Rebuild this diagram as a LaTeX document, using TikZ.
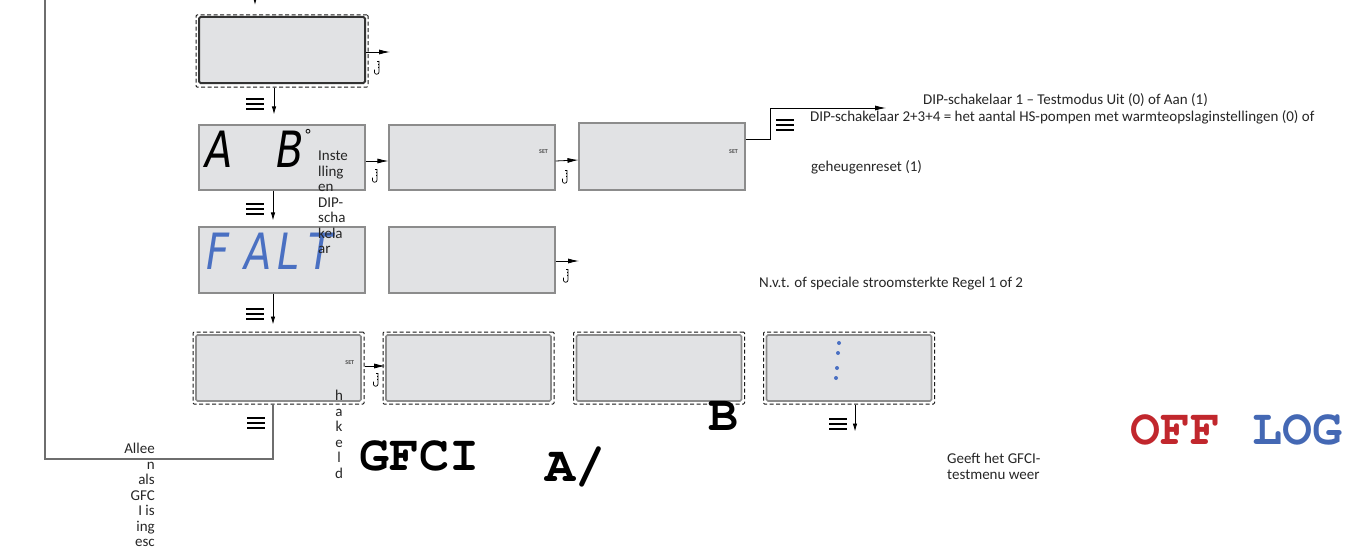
\documentclass[tikz,border=0pt]{standalone}
\usepackage[T1]{fontenc}
\usepackage{fontspec}
\setmainfont{Carlito}
\newfontfamily\lcdfont{DejaVu Sans}
\usetikzlibrary{arrows.meta, calc, positioning}

\definecolor{lcdgray}{HTML}{E1E2E4}
\definecolor{rimgray}{HTML}{8C8C8C}
\definecolor{wiregray}{HTML}{6E6E6E}
\definecolor{segblue}{HTML}{4A70C2}
\definecolor{offred}{HTML}{C1272D}
\definecolor{logblue}{HTML}{4468B4}

\newcommand{\crfont}{\fontencoding{T1}\fontfamily{pcr}\fontseries{b}\selectfont}

\begin{document}
\begin{tikzpicture}[x=1pt, y=-1pt,
  lcd/.style = {draw=rimgray, fill=lcdgray, line width=1.1pt, minimum width=166pt, minimum height=66pt, inner sep=0pt},
  lcdb/.style = {lcd, rounded corners=1.5pt, line width=1.6pt},
  frame/.style = {draw=black!90, dash pattern=on 4pt off 2.5pt, line width=1pt, minimum width=172pt, minimum height=72pt, inner sep=0pt, rounded corners=1pt},
  nxt/.style = {-{Latex[length=11pt,width=5pt]}, line width=.8pt},
  dwn/.style = {-{Latex[length=8pt,width=4.5pt]}, line width=.8pt},
  wire/.style = {draw=wiregray, line width=1.2pt},
  note/.style = {font=\fontsize{15}{15.5}\selectfont, text=black!85, inner sep=0pt},
  big/.style = {font=\crfont\fontsize{50}{50}\selectfont, inner sep=0pt, anchor=base west},
  seg/.style = {font=\lcdfont\fontsize{50}{50}\selectfont, inner sep=0pt},
  setlbl/.style = {font=\bfseries\fontsize{6}{6}\selectfont, text=black!70, inner sep=0pt},
  menu/.pic = {\draw[line width=2.2pt] (-9,-5) -- (9,-5) (-9,0) -- (9,0) (-9,5) -- (9,5);},
  thermo/.pic = {\draw[line width=.7pt] (0,0) -- (0,11) arc (0:180:2.3) -- ++(0,-2.5);
    \draw[line width=.5pt] (0,0) -- (-1.8,0) (0,3) -- (-1.5,3) (0,6) -- (-1.5,6);}
]
\useasboundingbox (0,0) rectangle (1367,551);

% displays
\node[frame] (topf) at (282,51) {};
\node[lcdb, draw=black!80, line width=2pt] (top) at (282,50) {};
\node[lcd, minimum height=65pt] (ab) at (282,157.5) {};
\node[lcd, minimum height=65pt] (ab2) at (472,157.5) {};
\node[lcd, minimum height=67pt] (ab3) at (662,156.5) {};
\node[lcd] (falt) at (282,260) {};
\node[lcd] (falt2) at (472,260) {};
\foreach \n/\x in {1/278.5, 2/468.5, 3/659, 4/849}{
  \node[frame, minimum width=171pt] (gf\n) at (\x,368) {};
  \node[lcdb, minimum width=165pt] (g\n) at (\x,368) {};
}

% display texts
\node[seg] (segA) at (219,149) {\scalebox{.8}[1]{\textit{A}}};
\node[seg] (segB) at (290,149) {\scalebox{.8}[1]{\textit{B}}};
\node[font=\lcdfont\fontsize{15}{15}\selectfont, inner sep=0pt] (deg) at (308,135) {°};
\foreach \c/\x in {F/218, A/258, L/289, T/322}{
  \node[seg, text=segblue] (seg\c) at (\x,251) {\scalebox{.8}[1]{\textit{\c}}};
}
\node[setlbl] (set1) at ($(ab2.east)+(-12,-5.5)$) {SET};
\node[setlbl] (set2) at ($(ab3.east)+(-12,-4.5)$) {SET};
\node[setlbl] (set3) at ($(g1.east)+(-12,-5)$) {SET};
\foreach \x/\y in {839/343, 838/353, 837/368, 836/378}{
  \fill[segblue] (\x,\y) circle (2);
}

% connectors
\coordinate (intop) at (255,-6);
\coordinate (intip) at (255,5);
\coordinate (topend) at (390,52);
\coordinate (faltend) at (579,261);
\coordinate (dipend) at (886,108);
\coordinate (wcorner) at (45,459);
\coordinate (wtop) at (45,-4);
\draw[dwn] (intop) -- (intip);
\draw[nxt] ([yshift=-2]top.east) -- (topend);
\draw[nxt] ([yshift=-3.5]ab.east) -- ([yshift=-3.5]ab2.west);
\draw[nxt] ([yshift=-3.5]ab2.east) -- ([yshift=-3.5]ab3.west);
\draw[nxt] ([yshift=-1]falt2.east) -- (faltend);
\draw[nxt] ([yshift=2]gf1.east) -- ([yshift=2]g2.west);
\draw[line width=.8pt, -{Latex[length=11pt,width=5pt]}] ([yshift=17.5]ab3.east) -- ++(25,0) |- (dipend);
\draw[dwn] ([xshift=-8]topf.south) -- ([xshift=-8, yshift=10]ab.north);
\draw[dwn] ([xshift=-9]ab.south) -- ([xshift=-9, yshift=6]falt.north);
\draw[dwn] ([xshift=-9]falt.south) -- ([xshift=-5.5, yshift=7]gf1.north);
\draw[dwn] ([xshift=6]gf4.south) -- ([xshift=6, yshift=-27]gf4.south);
\draw[wire] ([xshift=-5.5]gf1.south) |- (wcorner) -- (wtop);

\foreach \p in {(255,104), (255,209), (255,314), (256,423), (785,125), (838,424)}{
  \pic at \p {menu};
}
\foreach \p in {(379,61), (377,169), (567,170), (568,269), (378,373)}{
  \pic at \p {thermo};
}

% notes
\node[note, anchor=base west] (dip1) at (923,104) {DIP-schakelaar 1 – Testmodus Uit (0) of Aan (1)};
\node[note, anchor=base west] (dip2) at (810,121) {DIP-schakelaar 2+3+4 = het aantal HS-pompen met warmteopslaginstellingen (0) of};
\node[note, anchor=base west] (reset) at (811,171) {geheugenreset (1)};
\node[note, anchor=base west] (nvt) at (759,287) {N.v.t. of speciale stroomsterkte Regel 1 of 2};
\node[note, anchor=north west, align=left] (dipcol) at (318,151) {Inste\\lling\\en\\DIP-\\scha\\kela\\ar};
\node[note, anchor=north, align=center] (hook) at (339,390) {h\\a\\k\\e\\l\\d};
\node[note, anchor=north east, align=right] (only) at (155,443) {Allee\\n\\als\\GFC\\I is\\ing\\esc};
\node[note, anchor=north west, align=left] (back) at (947,453) {Geeft het GFCI-\\testmenu weer};

% big labels
\node[big] (gfci) at (359,470) {GFCI};
\node[big] (aslash) at (545,481) {A/};
\node[big] (bee) at (708,430) {B};
\node[big, text=offred] (off) at (1130,444) {OFF};
\node[big, text=logblue] (log) at (1252,444) {LOG};
\end{tikzpicture}
\end{document}
